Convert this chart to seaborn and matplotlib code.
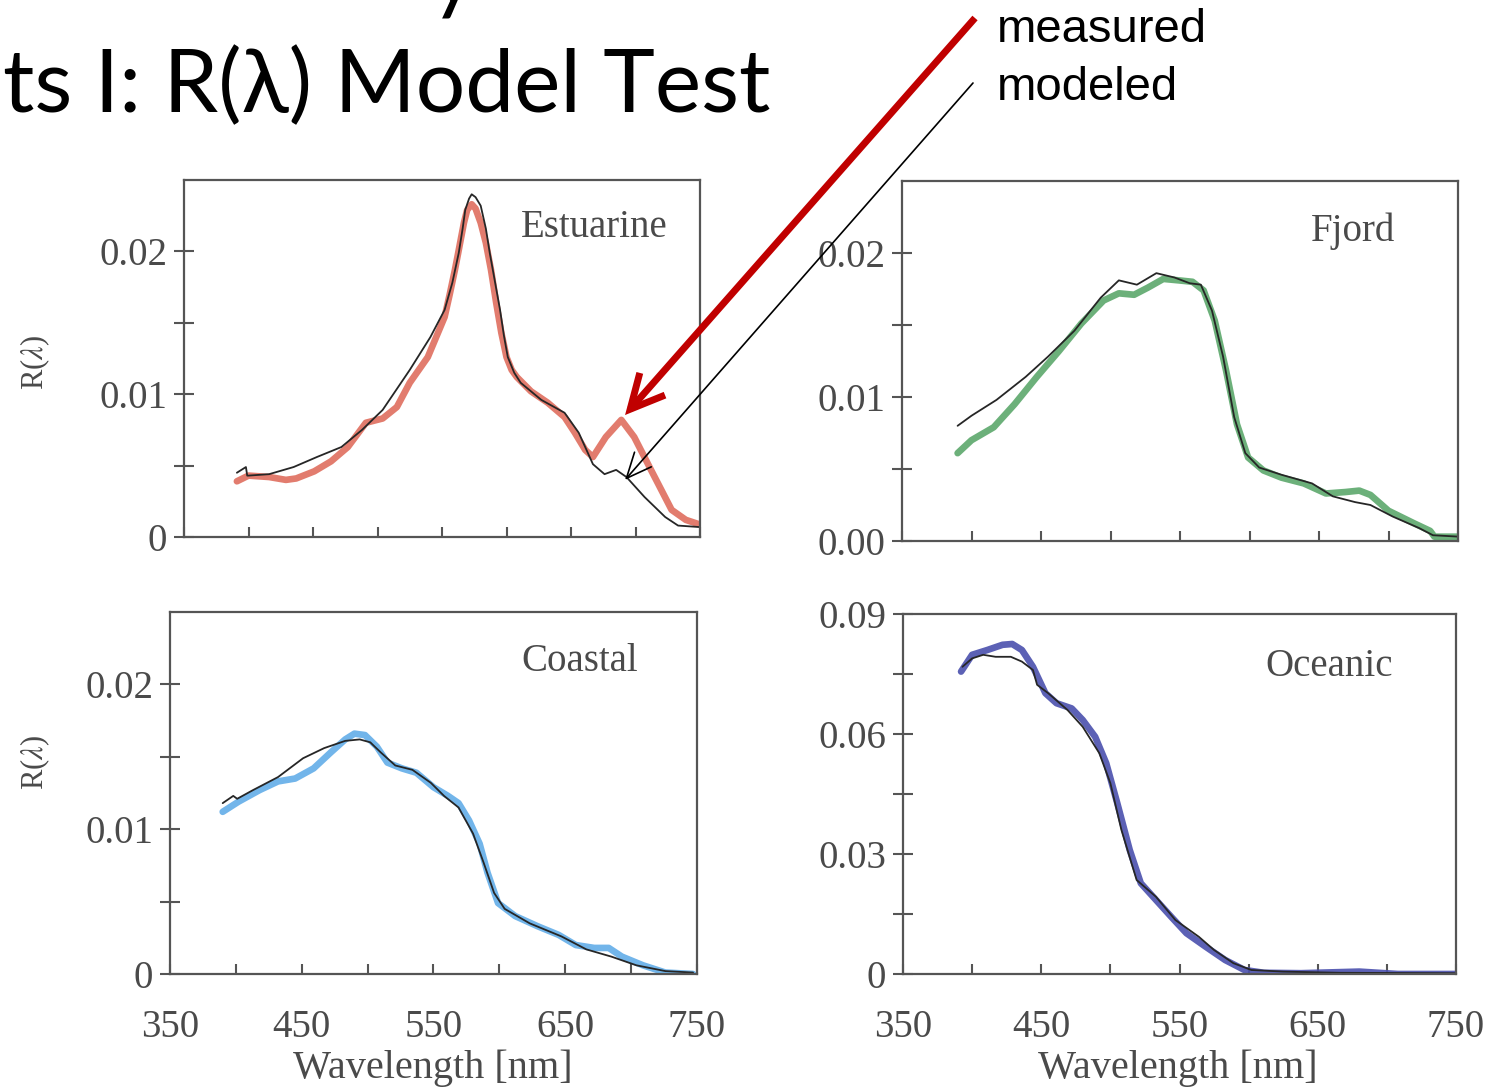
import numpy as np
import pandas as pd
import matplotlib
matplotlib.use("Agg")
import matplotlib.pyplot as plt
import seaborn as sns

# ---------------- data ----------------
est_meas_nm = [391, 400, 416, 429, 437, 451, 464, 477, 491, 504, 515, 525, 539, 552, 556, 560, 563, 567,
               569.5, 573, 576, 580, 584, 588, 592, 596, 600, 604, 608, 619, 632, 645, 653, 661, 667,
               677, 689, 699, 712, 728, 739, 749]
est_meas_R = [0.0039, 0.0043, 0.0042, 0.0040, 0.0041, 0.0046, 0.0053, 0.0063, 0.0080, 0.0083, 0.0091,
              0.0108, 0.0126, 0.0154, 0.0170, 0.0187, 0.0201, 0.0220, 0.0229, 0.0233, 0.0230, 0.0220,
              0.0206, 0.0187, 0.0164, 0.0143, 0.0126, 0.0117, 0.0112, 0.0102, 0.0094, 0.0084, 0.0073,
              0.0061, 0.0056, 0.0070, 0.0082, 0.0070, 0.0047, 0.0019, 0.0012, 0.0009]
est_mod_nm = [391, 398, 399, 400, 416, 435, 453, 472, 488, 504, 525, 541, 552, 558, 563, 566, 568, 571,
              573, 576, 580, 584, 587, 591, 595, 598, 601, 606, 611, 627, 645, 656, 667, 676, 685,
              693, 707, 723, 733, 749]
est_mod_R = [0.0045, 0.0049, 0.0043, 0.0043, 0.0044, 0.0049, 0.0056, 0.0063, 0.0075, 0.0089, 0.0117,
             0.0140, 0.0159, 0.0178, 0.0199, 0.0216, 0.0229, 0.0237, 0.0240, 0.0238, 0.0232, 0.0216,
             0.0199, 0.0179, 0.0159, 0.0141, 0.0126, 0.0115, 0.0108, 0.0096, 0.0087, 0.0073, 0.0051,
             0.0044, 0.0047, 0.0042, 0.0028, 0.0014, 0.0008, 0.0007]

fjo_meas_nm = [390, 400, 416, 431, 447, 463, 479, 495, 506, 517, 527, 538, 549, 559, 567, 575, 583, 591,
               599, 610, 623, 639, 655, 669, 679, 687, 700, 719, 730, 733, 751]
fjo_meas_R = [0.0061, 0.0070, 0.0079, 0.0095, 0.0114, 0.0132, 0.0151, 0.0167, 0.0172, 0.0171, 0.0176,
              0.0182, 0.0181, 0.0180, 0.0174, 0.0153, 0.0119, 0.0081, 0.0058, 0.0049, 0.0044, 0.0040,
              0.0033, 0.0034, 0.0035, 0.0032, 0.0021, 0.0012, 0.0007, 0.0003, 0.0003]
fjo_mod_nm = [390, 400, 418, 439, 455, 474, 493, 506, 519, 533, 546, 557, 565, 573, 581, 589, 597, 607,
              623, 645, 660, 676, 687, 703, 722, 732, 751]
fjo_mod_R = [0.0080, 0.0087, 0.0098, 0.0114, 0.0128, 0.0146, 0.0169, 0.0181, 0.0178, 0.0186, 0.0183,
             0.0179, 0.0178, 0.0160, 0.0128, 0.0086, 0.0061, 0.0051, 0.0046, 0.0040, 0.0031, 0.0027,
             0.0025, 0.0017, 0.0009, 0.0004, 0.0003]

coa_meas_nm = [390, 402, 418, 432, 445, 459, 472, 483, 490, 498, 507, 515, 526, 537, 550, 561, 569, 577,
               585, 591, 599, 612, 629, 645, 658, 672, 683, 693, 709, 726, 747]
coa_meas_R = [0.0112, 0.0119, 0.0127, 0.0133, 0.0135, 0.0142, 0.0153, 0.0162, 0.0166, 0.0165, 0.0157,
              0.0146, 0.0142, 0.0139, 0.0129, 0.0123, 0.0118, 0.0106, 0.0090, 0.0070, 0.0049, 0.0040,
              0.0033, 0.0027, 0.0020, 0.0018, 0.0018, 0.0012, 0.0006, 0.0001, 0.0000]
coa_mod_nm = [390, 398, 401, 413, 432, 451, 467, 483, 494, 502, 510, 521, 534, 548, 558, 569, 580, 588,
              596, 604, 623, 647, 666, 685, 704, 726, 747]
coa_mod_R = [0.0118, 0.0123, 0.0121, 0.0127, 0.0136, 0.0149, 0.0156, 0.0161, 0.0162, 0.0160, 0.0153,
             0.0144, 0.0141, 0.0132, 0.0123, 0.0115, 0.0097, 0.0077, 0.0056, 0.0045, 0.0035, 0.0026,
             0.0017, 0.0012, 0.0006, 0.0002, 0.0001]

oce_meas_nm = [392, 400, 411, 422, 429, 436, 444, 453, 461, 472, 480, 489, 497, 505, 514, 522, 533, 544,
               555, 569, 583, 597, 611, 638, 680, 708, 749]
oce_meas_R = [0.0756, 0.0798, 0.0810, 0.0823, 0.0825, 0.0810, 0.0768, 0.0702, 0.0677, 0.0664, 0.0635,
              0.0593, 0.0527, 0.0427, 0.0310, 0.0227, 0.0185, 0.0143, 0.0102, 0.0068, 0.0035, 0.0010,
              0.0003, 0.0002, 0.0006, 0.0000, 0.0000]
oce_mod_nm = [393, 400, 408, 417, 428, 436, 444, 447, 455, 469, 480, 492, 500, 508, 519, 533, 547, 564,
              575, 589, 602, 625, 666, 749]
oce_mod_R = [0.0768, 0.0789, 0.0798, 0.0793, 0.0793, 0.0781, 0.0760, 0.0723, 0.0702, 0.0660, 0.0618,
             0.0552, 0.0477, 0.0360, 0.0235, 0.0193, 0.0135, 0.0093, 0.0060, 0.0027, 0.0010, 0.0006,
             0.0003, 0.0002]

panel_names = ["Estuarine", "Fjord", "Coastal", "Oceanic"]
y_major = [[0, 0.01, 0.02], [0, 0.01, 0.02], [0, 0.01, 0.02], [0, 0.03, 0.06, 0.09]]
y_major_labels = [["0", "0.01", "0.02"], ["0.00", "0.01", "0.02"], ["0", "0.01", "0.02"],
                  ["0", "0.03", "0.06", "0.09"]]
y_minor = [[0.005, 0.015], [0.005, 0.015], [0.005, 0.015], [0.015, 0.045, 0.075]]
y_limits = [0.025, 0.025, 0.025, 0.09]
x_major = [350, 450, 550, 650, 750]
x_major_labels = ["350", "450", "550", "650", "750"]
x_minor = [400, 500, 600, 700]

title_text = "ts I: R(\u03bb) Model Test"
legend_measured = "measured"
legend_modeled = "modeled"
y_label = r"R($\lambda$)"
x_label = "Wavelength [nm]"

# ---------------- style ----------------
sns.set_theme(style="white")
plt.rcParams["font.family"] = ["Liberation Serif", "DejaVu Serif"]
plt.rcParams["mathtext.fontset"] = "stix"

W, H = 1497, 1090
fig = plt.figure(figsize=(W / 100, H / 100), dpi=100)
fig.patch.set_facecolor("white")


def rect(l, r, t, b):
    return [l / W, 1 - b / H, (r - l) / W, (b - t) / H]


rects = [rect(184, 700, 180, 537), rect(902, 1458, 181, 541),
         rect(170, 697, 612, 974), rect(903, 1456, 614, 974)]
meas_colors = ["#df6e5e", "#5ca86c", "#63ade8", "#4a50ad"]
name_pos = [(0.938, 0.868), (0.887, 0.861), (0.888, 0.862), (0.886, 0.853)]

series = [(est_meas_nm, est_meas_R, est_mod_nm, est_mod_R),
          (fjo_meas_nm, fjo_meas_R, fjo_mod_nm, fjo_mod_R),
          (coa_meas_nm, coa_meas_R, coa_mod_nm, coa_mod_R),
          (oce_meas_nm, oce_meas_R, oce_mod_nm, oce_mod_R)]

spine_col = "#555555"
text_col = "#4a4a4a"
axes = []
for i in range(4):
    ax = fig.add_axes(rects[i])
    ax.set_facecolor("none")
    mnm, mR, dnm, dR = series[i]
    dfm = pd.DataFrame({"nm": mnm, "R": mR})
    dfd = pd.DataFrame({"nm": dnm, "R": dR})
    sns.lineplot(data=dfm, x="nm", y="R", ax=ax, color=meas_colors[i], lw=4.8,
                 alpha=0.9, estimator=None, sort=False, solid_capstyle="round",
                 solid_joinstyle="round")
    sns.lineplot(data=dfd, x="nm", y="R", ax=ax, color="#262626", lw=1.3,
                 estimator=None, sort=False, solid_joinstyle="round")
    ax.set_xlim(350, 750)
    ax.set_ylim(0, y_limits[i])
    ax.set_xlabel("")
    ax.set_ylabel("")
    ax.set_xticks(x_major)
    ax.set_xticks(x_minor, minor=True)
    ax.set_yticks(y_major[i])
    ax.set_yticklabels(y_major_labels[i])
    ax.set_yticks(y_minor[i], minor=True)
    if i >= 2:
        ax.set_xticklabels(x_major_labels)
    else:
        ax.set_xticklabels([])
    for sp in ax.spines.values():
        sp.set_color(spine_col)
        sp.set_linewidth(1.6)
    ax.tick_params(axis="y", which="both", direction="inout", length=14, width=1.5,
                   color=spine_col, labelsize=28, labelcolor=text_col, pad=5, left=True)
    ax.tick_params(axis="x", which="both", direction="in", length=7, width=1.5,
                   color=spine_col, labelsize=28, labelcolor=text_col, pad=25, bottom=True)
    ax.text(name_pos[i][0], name_pos[i][1], panel_names[i], transform=ax.transAxes,
            ha="right", va="center", fontsize=28, color=text_col)
    axes.append(ax)

# y labels
fig.text(35 / W, 1 - 362 / H, y_label, rotation=90, ha="center", va="center",
         fontsize=22, color=text_col)
fig.text(35 / W, 1 - 762 / H, y_label, rotation=90, ha="center", va="center",
         fontsize=22, color=text_col)
# x labels
fig.text(433 / W, 1 - 1068 / H, x_label, ha="center", va="center", fontsize=29, color=text_col)
fig.text(1178 / W, 1 - 1068 / H, x_label, ha="center", va="center", fontsize=29, color=text_col)

# title (cut at the left edge like the slide)
fig.text(3 / W, 1 - 112 / H, title_text, ha="left", va="baseline", fontsize=63,
         color="black", family=["Lato", "DejaVu Sans"])
fig.text(430 / W, 1 - 2 / H, "y", ha="left", va="baseline", fontsize=63,
         color="black", family=["Lato", "DejaVu Sans"])

# legend-like labels with arrows
fig.text(997 / W, 1 - 42 / H, legend_measured, ha="left", va="baseline", fontsize=34,
         color="black", family=["Liberation Sans", "DejaVu Sans"])
fig.text(997 / W, 1 - 100 / H, legend_modeled, ha="left", va="baseline", fontsize=34,
         color="black", family=["Liberation Sans", "DejaVu Sans"])

ax1 = axes[0]
ax1.set_zorder(10)
ax1.annotate("", xy=(691.9, 0.00854), xycoords="data",
             xytext=(975 / W, 1 - 18 / H), textcoords="figure fraction",
             annotation_clip=False,
             arrowprops=dict(arrowstyle="->,head_length=1.1,head_width=0.55", color="#c00000",
                             lw=5, shrinkA=0, shrinkB=0, mutation_scale=22,
                             joinstyle="miter", capstyle="butt"))
ax1.annotate("", xy=(691.9, 0.0040), xycoords="data",
             xytext=(973 / W, 1 - 83 / H), textcoords="figure fraction",
             annotation_clip=False,
             arrowprops=dict(arrowstyle="->,head_length=0.9,head_width=0.4", color="black",
                             lw=1.2, shrinkA=0, shrinkB=0, mutation_scale=20))

fig.savefig("out.png", dpi=100, facecolor="white")
